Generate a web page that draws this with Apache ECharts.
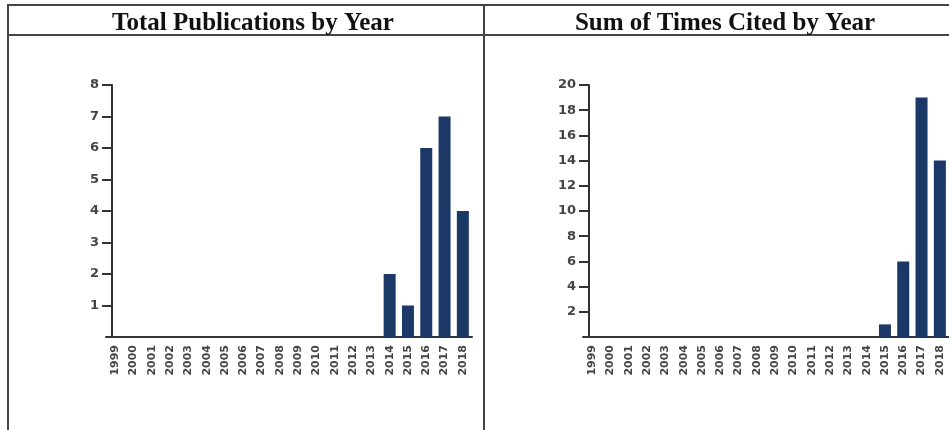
<!DOCTYPE html>
<html>
<head>
<meta charset="utf-8">
<script src="https://cdn.jsdelivr.net/npm/echarts@6/dist/echarts.min.js"></script>
<style>
  html, body { margin: 0; padding: 0; background: #fff; }
  #main { width: 949px; height: 430px; }
</style>
</head>
<body>
<div id="main"></div>
<script>
// data
let years = ["1999", "2000", "2001", "2002", "2003", "2004", "2005", "2006", "2007", "2008",
    "2009", "2010", "2011", "2012", "2013", "2014", "2015", "2016", "2017", "2018"]

let publications = [0, 0, 0, 0, 0, 0, 0, 0, 0, 0, 0, 0, 0, 0, 0, 2, 1, 6, 7, 4]
let timesCited = [0, 0, 0, 0, 0, 0, 0, 0, 0, 0, 0, 0, 0, 0, 0, 0, 1, 6, 19, 14]

let titles = ["Total Publications by Year", "Sum of Times Cited by Year"]

let barColor = "#1b3866"
let lineColor = "#333"

var myChart = echarts.init(document.getElementById('main'))

function xAxisFor(i) {
    return {
        type: 'category',
        gridIndex: i,
        data: years,
        axisLine: { lineStyle: { color: lineColor, width: 2 } },
        axisTick: { alignWithLabel: true, length: 7, lineStyle: { color: lineColor, width: 2 } },
        axisLabel: {
            rotate: 90,
            interval: 0,
            margin: 8,
            color: '#444',
            fontFamily: 'DejaVu Sans',
            fontWeight: 'bold',
            fontSize: 11
        }
    }
}

function yAxisFor(i, max, step) {
    return {
        type: 'value',
        gridIndex: i,
        min: 0,
        max: max,
        interval: step,
        offset: -6,
        axisLine: { show: true, lineStyle: { color: lineColor, width: 2 } },
        axisTick: { show: true, length: 10, lineStyle: { color: lineColor, width: 2 } },
        splitLine: { show: false },
        axisLabel: {
            showMinLabel: false,
            margin: 13,
            color: '#444',
            fontFamily: 'DejaVu Sans',
            fontWeight: 'bold',
            fontSize: 13
        }
    }
}

var option = {
    animation: false,
    title: [
        {
            text: titles[0], left: 248, top: 6, textAlign: 'center',
            textStyle: { fontFamily: 'Liberation Serif', fontWeight: 'bold', fontSize: 25, color: '#111' }
        },
        {
            text: titles[1], left: 720, top: 6, textAlign: 'center',
            textStyle: { fontFamily: 'Liberation Serif', fontWeight: 'bold', fontSize: 25, color: '#111' }
        }
    ],
    grid: [
        { left: 106, top: 85, width: 366, height: 252 },
        { left: 583, top: 85, width: 366, height: 252 }
    ],
    xAxis: [xAxisFor(0), xAxisFor(1)],
    yAxis: [yAxisFor(0, 8, 1), yAxisFor(1, 20, 2)],
    series: [
        {
            type: 'bar', xAxisIndex: 0, yAxisIndex: 0,
            data: publications, barWidth: 12,
            itemStyle: { color: barColor }
        },
        {
            type: 'bar', xAxisIndex: 1, yAxisIndex: 1,
            data: timesCited, barWidth: 12,
            itemStyle: { color: barColor }
        }
    ],
    // panel frame lines
    graphic: [
        { type: 'line', shape: { x1: 8, y1: 5, x2: 949, y2: 5 }, style: { stroke: '#444', lineWidth: 2 } },
        { type: 'line', shape: { x1: 8, y1: 35, x2: 949, y2: 35 }, style: { stroke: '#444', lineWidth: 2 } },
        { type: 'line', shape: { x1: 8, y1: 4, x2: 8, y2: 430 }, style: { stroke: '#444', lineWidth: 2 } },
        { type: 'line', shape: { x1: 484, y1: 4, x2: 484, y2: 430 }, style: { stroke: '#444', lineWidth: 2 } }
    ]
}

myChart.setOption(option)
</script>
</body>
</html>
